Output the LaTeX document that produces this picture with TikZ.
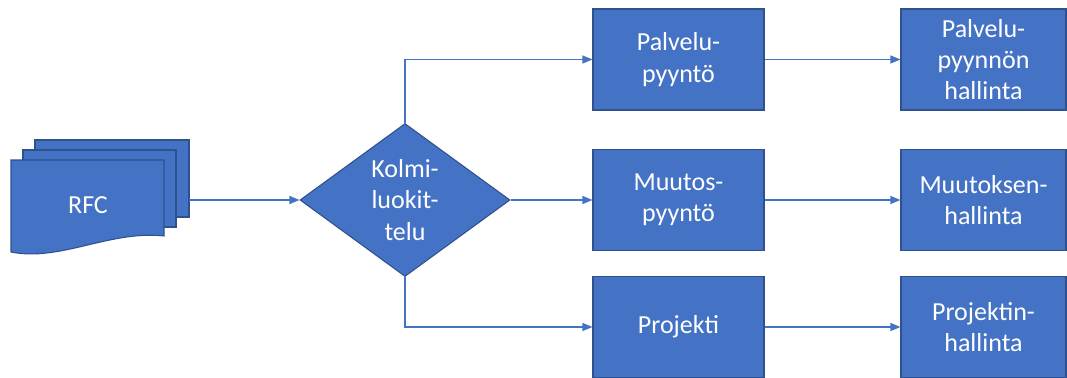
\documentclass[tikz,border=0pt]{standalone}
\usepackage{fontspec}
\setmainfont{Carlito}
\usetikzlibrary{shapes.geometric,arrows.meta}
\definecolor{boxfill}{HTML}{4472C4}
\definecolor{boxline}{HTML}{2F528F}
\definecolor{arrowcol}{HTML}{4472C4}
\begin{document}
\begin{tikzpicture}[x=0.75pt,y=-0.75pt,
  lbl/.style={text=white,font=\fontsize{19.5}{23.4}\selectfont,align=center},
  procbox/.style={lbl,draw=boxline,fill=boxfill,line width=0.8pt,inner sep=0pt},
  col1/.style={procbox,minimum width=171*0.75pt,minimum height=101*0.75pt},
  col2/.style={procbox,minimum width=165*0.75pt,minimum height=101*0.75pt},
  decide/.style={lbl,shape=diamond,draw=boxline,fill=boxfill,line width=0.8pt,inner sep=0pt,minimum width=210*0.75pt,minimum height=153*0.75pt},
  page/.style={draw=boxline,fill=boxfill,line width=0.8pt},
  conn/.style={draw=arrowcol,line width=0.8pt,-{Triangle[length=7.5pt,width=6pt]}}]
\useasboundingbox (0,0) rectangle (1067,378);
% document stack
\path[page] (35,140) rectangle (189,217);
\path[page] (23,150) rectangle (176,227);
\path[page] (11,160) -- (164,160) -- (164,236) .. controls (110,230) and (60,262) .. (11,252) -- cycle;
\node[lbl] (rfc) at (88,205) {RFC};
\coordinate (stack) at (189,200);
% decision
\node[decide] (dia) at (405,200) {Kolmi-\\luokit-\\telu};
% column 1
\node[col1] (palv) at (678.5,59.5) {Palvelu-\\pyyntö};
\node[col1] (muut) at (678.5,200) {Muutos-\\pyyntö};
\node[col1] (proj) at (678.5,327) {Projekti};
% column 2
\node[col2] (palvh) at (983.5,59.5) {Palvelu-\\pyynnön\\hallinta};
\node[col2] (muuth) at (983.5,200) {Muutoksen-\\hallinta};
\node[col2] (projh) at (983.5,327) {Projektin-\\hallinta};
% connectors
\draw[conn] (stack) -- (dia.west);
\draw[conn] (dia.north) |- (palv.west);
\draw[conn] (dia.east) -- (muut.west);
\draw[conn] (dia.south) |- (proj.west);
\draw[conn] (palv.east) -- (palvh.west);
\draw[conn] (muut.east) -- (muuth.west);
\draw[conn] (proj.east) -- (projh.west);
\end{tikzpicture}
\end{document}
